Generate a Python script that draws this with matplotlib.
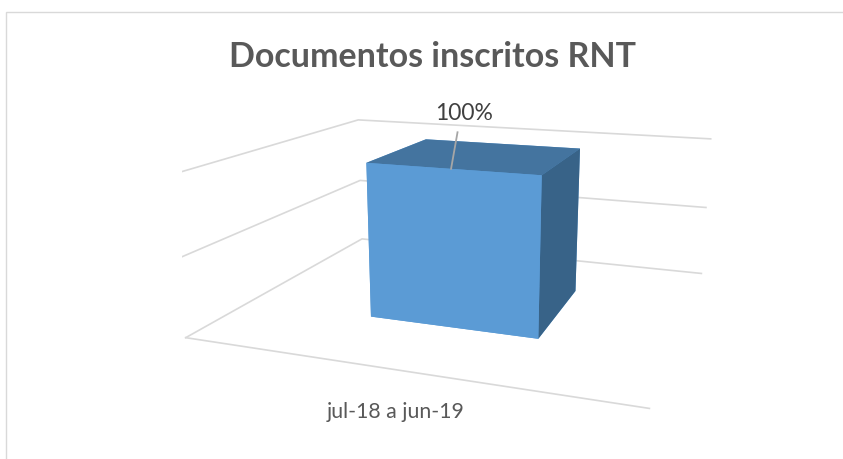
import numpy as np
import matplotlib.pyplot as plt
from matplotlib.patches import Rectangle

title = 'Documentos inscritos RNT'
categories = ['jul-18 a jun-19']
values = [1.0]
labels = ['100%']
grid_levels = [0.0, 0.5, 1.0]

plt.rcParams['font.family'] = ['Lato', 'DejaVu Sans']

fig = plt.figure(figsize=(8.43, 4.59), dpi=100)
fig.patches.append(Rectangle((6 / 843, -0.01), 1.0, 1.01 - 12 / 459, transform=fig.transFigure,
                             fill=False, edgecolor='#d9d9d9', lw=1))

ax = fig.add_axes([0.038, -0.128, 1.02, 1.22], projection='3d')
ax.computed_zorder = False
ax.set_proj_type('persp', focal_length=0.3)
ax.view_init(elev=15, azim=-70)
ax.set_box_aspect((1.0, 0.85, 0.36))
ax.set_xlim(0, 1)
ax.set_ylim(0, 1)
ax.set_zlim(0, 1)
ax.set_axis_off()

gc = '#d9d9d9'
for z in grid_levels:
    # left wall and back wall gridlines
    ax.plot([0, 0, 1], [0, 1, 1], [z, z, z], color=gc, lw=1.2, zorder=1)
# floor front edge (category axis)
ax.plot([0, 1], [0, 0], [0, 0], color=gc, lw=1.2, zorder=1)

bw = 0.4
for i, v in enumerate(values):
    x0 = i + 0.52 - bw / 2
    y0 = 0.5 - bw / 2
    # faces: bottom, top, front, back, left, right
    ax.bar3d(x0, y0, 0, bw, bw, v, shade=False, zorder=2,
             color=['#5b9bd5', '#44749f', '#5b9bd5', '#5b9bd5', '#5b9bd5', '#386388'])
    ax.plot([i + 0.52, i + 0.535], [y0, y0], [v, v + 0.22], color='#a6a6a6', lw=1.3, zorder=3)
    ax.text(i + 0.55, y0, v + 0.33, labels[i], ha='center', va='center',
            fontsize=16.5, color='#404040', zorder=4)
    ax.text(i + 0.575, -0.2, 0, categories[i], ha='center', va='center',
            fontsize=15.3, color='#595959', zorder=4)

fig.text(0.513, 1 - 57 / 459, title, ha='center', va='center', fontsize=24.5,
         fontweight='bold', color='#595959')

fig.savefig('out.png', dpi=100)
